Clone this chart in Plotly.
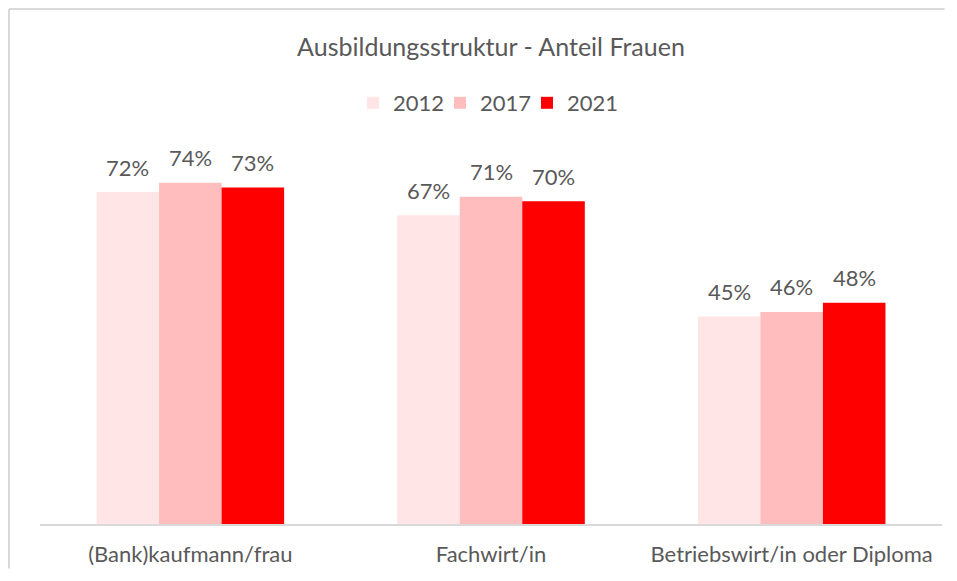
import plotly.graph_objects as go

categories = ["(Bank)kaufmann/frau", "Fachwirt/in", "Betriebswirt/in oder Diploma"]
years = ["2012", "2017", "2021"]
values_2012 = [0.72, 0.67, 0.45]
values_2017 = [0.74, 0.71, 0.46]
values_2021 = [0.73, 0.70, 0.48]
colors = ["#FFE5E5", "#FFBDBD", "#FF0000"]

FONT = "Lato"
GREY = "#595959"
BARGAP = 0.376

# page has an 8px body margin, so the figure is shifted by 8px;
# keep the figure a bit smaller than the window so no scrollbar appears
OFF = 8
SLACK = 4
W, H = 957 - 2 * OFF - SLACK, 581 - 2 * OFF - SLACK
L, T = 40 - OFF, 63 - OFF
R = (W + OFF) - 942
B = (H + OFF) - 524
plot_w = W - L - R
plot_h = H - T - B

def px_x(p):  # screen px -> paper
    return (p - OFF - L) / plot_w

def px_y(p):
    return (H - B - (p - OFF)) / plot_h

series = [values_2012, values_2017, values_2021]

fig = go.Figure()
for name, vals, col in zip(years, series, colors):
    fig.add_trace(go.Bar(
        name=name, x=categories, y=vals, marker_color=col, marker_line_width=0,
    ))
# empty legend spacer so the last legend entry is not clipped
fig.add_trace(go.Scatter(x=[None], y=[None], mode="markers", name=" ",
                         marker=dict(color="rgba(0,0,0,0)", size=1,
                                     line=dict(width=0)),
                         hoverinfo="skip"))

# value labels above each bar
bar_w = (1 - BARGAP) / len(years)
annotations = []
for j, vals in enumerate(series):
    for i, v in enumerate(vals):
        annotations.append(dict(
            x=i + (j - (len(years) - 1) / 2) * bar_w, y=v, xref="x", yref="y",
            text=f"{round(v * 100)}%", showarrow=False, yanchor="middle", yshift=25,
            font=dict(family=FONT, size=22, color=GREY),
        ))

right_edge = OFF + W - 0.5
bottom_edge = OFF + H - 0.5

fig.update_layout(
    width=W, height=H,
    margin=dict(l=L, r=R, t=T, b=B),
    paper_bgcolor="white", plot_bgcolor="white",
    barmode="group", bargap=BARGAP, bargroupgap=0,
    title=dict(text="Ausbildungsstruktur - Anteil Frauen", x=0.5, xref="paper",
               xanchor="center", y=1 - (47 - OFF) / H, yanchor="middle",
               font=dict(family=FONT, size=25, color=GREY)),
    legend=dict(orientation="h", x=px_x(353), xanchor="left", y=px_y(103), yanchor="middle",
                font=dict(family=FONT, size=22, color=GREY), itemwidth=30,
                entrywidth=42, bgcolor="rgba(0,0,0,0)"),
    showlegend=True,
    annotations=annotations,
    xaxis=dict(showline=True, linecolor="#D9D9D9", linewidth=2, showgrid=False,
               ticks="", tickfont=dict(family=FONT, size=22, color=GREY),
               ticklabelstandoff=10),
    yaxis=dict(range=[0, 1], visible=False, showgrid=False, zeroline=False),
    shapes=[
        dict(type="line", xref="paper", yref="paper",
             x0=px_x(9), x1=px_x(9), y0=px_y(bottom_edge), y1=px_y(9),
             line=dict(color="#D9D9D9", width=2), layer="above"),
        dict(type="line", xref="paper", yref="paper",
             x0=px_x(9), x1=px_x(right_edge), y0=px_y(9), y1=px_y(9),
             line=dict(color="#D9D9D9", width=2), layer="above"),
    ],
)

fig.write_html("out.html")
